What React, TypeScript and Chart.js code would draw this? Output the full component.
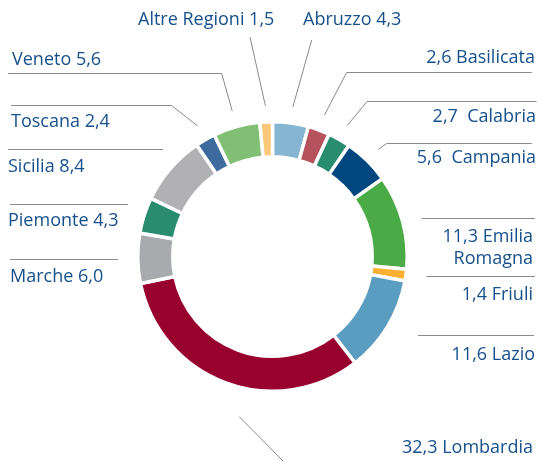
import React, { useEffect, useRef } from "react";
import { Chart, registerables } from "chart.js";

Chart.register(...registerables);

const regions = [
  "Abruzzo", "Basilicata", "Calabria", "Campania", "Emilia Romagna", "Friuli", "Lazio",
  "Lombardia", "Marche", "Piemonte", "Sicilia", "Toscana", "Veneto", "Altre Regioni",
];
const shares = [4.3, 2.6, 2.7, 5.6, 11.3, 1.4, 11.6, 32.3, 6.0, 4.3, 8.4, 2.4, 5.6, 1.5];
const labelLines: string[][] = [
  ["Abruzzo 4,3"], ["2,6 Basilicata"], ["2,7  Calabria"], ["5,6  Campania"],
  ["11,3 Emilia", "Romagna"], ["1,4 Friuli"], ["11,6 Lazio"], ["32,3 Lombardia"],
  ["Marche 6,0"], ["Piemonte 4,3"], ["Sicilia 8,4"], ["Toscana 2,4"], ["Veneto 5,6"],
  ["Altre Regioni 1,5"],
];
const colors = [
  "#86b5d3", "#b5525b", "#2a8c6e", "#00467f", "#4aaa46", "#fbb034", "#5b9cc1",
  "#98002e", "#a9aaad", "#2a8c6e", "#b1b1b3", "#3d6b9e", "#81bf74", "#fdc77a",
];

// Layout of the outside labels (style/position only)
type Lay = {
  align: "left" | "right" | "center";
  x: number;
  y: number; // text middle y of first line
  hline?: [number, number, number]; // x1, x2, y
  elbow?: [number, number]; // where the diagonal meets
  lead?: boolean; // draw diagonal to the arc
  extra?: [number, number, number, number];
};
const layout: Lay[] = [
  { align: "left", x: 303, y: 20, elbow: [311.7, 40], lead: true },
  { align: "right", x: 535, y: 58, hline: [346.7, 531.7, 72.5], elbow: [346.7, 72.5], lead: true },
  { align: "right", x: 536, y: 116.5, hline: [367, 536.5, 101.5], elbow: [367, 101.5], lead: true },
  { align: "right", x: 536, y: 158, hline: [386.7, 531.7, 143.5], elbow: [386.7, 143.5], lead: true },
  { align: "right", x: 533, y: 236.5, hline: [421.5, 535, 218.5] },
  { align: "right", x: 533, y: 295, hline: [426.5, 535, 276.5] },
  { align: "right", x: 535, y: 355, hline: [418, 534, 335.5] },
  { align: "right", x: 533, y: 448, extra: [239.3, 416.7, 283, 461] },
  { align: "left", x: 10, y: 277, hline: [10, 118, 259.5] },
  { align: "left", x: 8, y: 221, hline: [10, 128, 204.5] },
  { align: "left", x: 8, y: 166.5, hline: [8, 163, 149.5] },
  { align: "left", x: 11, y: 122, hline: [11, 171.5, 105.5], elbow: [171.5, 105.5], lead: true },
  { align: "left", x: 12, y: 60, hline: [8, 221.7, 73.5], elbow: [221.7, 73.5], lead: true },
  { align: "left", x: 138, y: 20, elbow: [250, 37], lead: true },
];

const labelPlugin = {
  id: "outLabels",
  afterDraw(chart: any) {
    const ctx = chart.ctx as CanvasRenderingContext2D;
    const meta = chart.getDatasetMeta(0);
    ctx.save();
    ctx.strokeStyle = "#8a8a8a";
    ctx.lineWidth = 1;
    ctx.font = "18px 'Open Sans'";
    ctx.fillStyle = "#16508c";
    ctx.textBaseline = "middle";
    layout.forEach((l, i) => {
      const arc = meta.data[i];
      const p = arc.getProps(["x", "y", "startAngle", "endAngle", "outerRadius"], true);
      const mid = (p.startAngle + p.endAngle) / 2;
      const r = p.outerRadius + 16;
      const ax = p.x + Math.cos(mid) * r;
      const ay = p.y + Math.sin(mid) * r;
      ctx.beginPath();
      if (l.hline) {
        ctx.moveTo(l.hline[0], l.hline[2]);
        ctx.lineTo(l.hline[1], l.hline[2]);
      }
      if (l.lead && l.elbow) {
        ctx.moveTo(l.elbow[0], l.elbow[1]);
        ctx.lineTo(ax, ay);
      }
      if (l.extra) {
        ctx.moveTo(l.extra[0], l.extra[1]);
        ctx.lineTo(l.extra[2], l.extra[3]);
      }
      ctx.stroke();
      ctx.textAlign = l.align;
      labelLines[i].forEach((t, k) => {
        ctx.fillText(t, l.x, l.y + k * 22);
      });
    });
    ctx.restore();
  },
};

export default function App() {
  const ref = useRef<HTMLCanvasElement | null>(null);
  useEffect(() => {
    if (!ref.current) return;
    const chart = new Chart(ref.current, {
      type: "doughnut",
      data: {
        labels: regions,
        datasets: [
          {
            data: shares,
            backgroundColor: colors,
            borderColor: "#ffffff",
            borderWidth: 3.5,
          },
        ],
      },
      options: {
        animation: false,
        responsive: false,
        cutout: "74%",
        layout: { padding: { left: 136, right: 132, top: 120, bottom: 68 } },
        plugins: { legend: { display: false }, tooltip: { enabled: false } },
      },
      plugins: [labelPlugin],
    });
    return () => chart.destroy();
  }, []);
  return (
    <div style={{ position: "fixed", left: 0, top: 0, width: 541, height: 461, background: "#fff" }}>
      <canvas ref={ref} width={541} height={461} style={{ width: 541, height: 461 }} />
    </div>
  );
}
